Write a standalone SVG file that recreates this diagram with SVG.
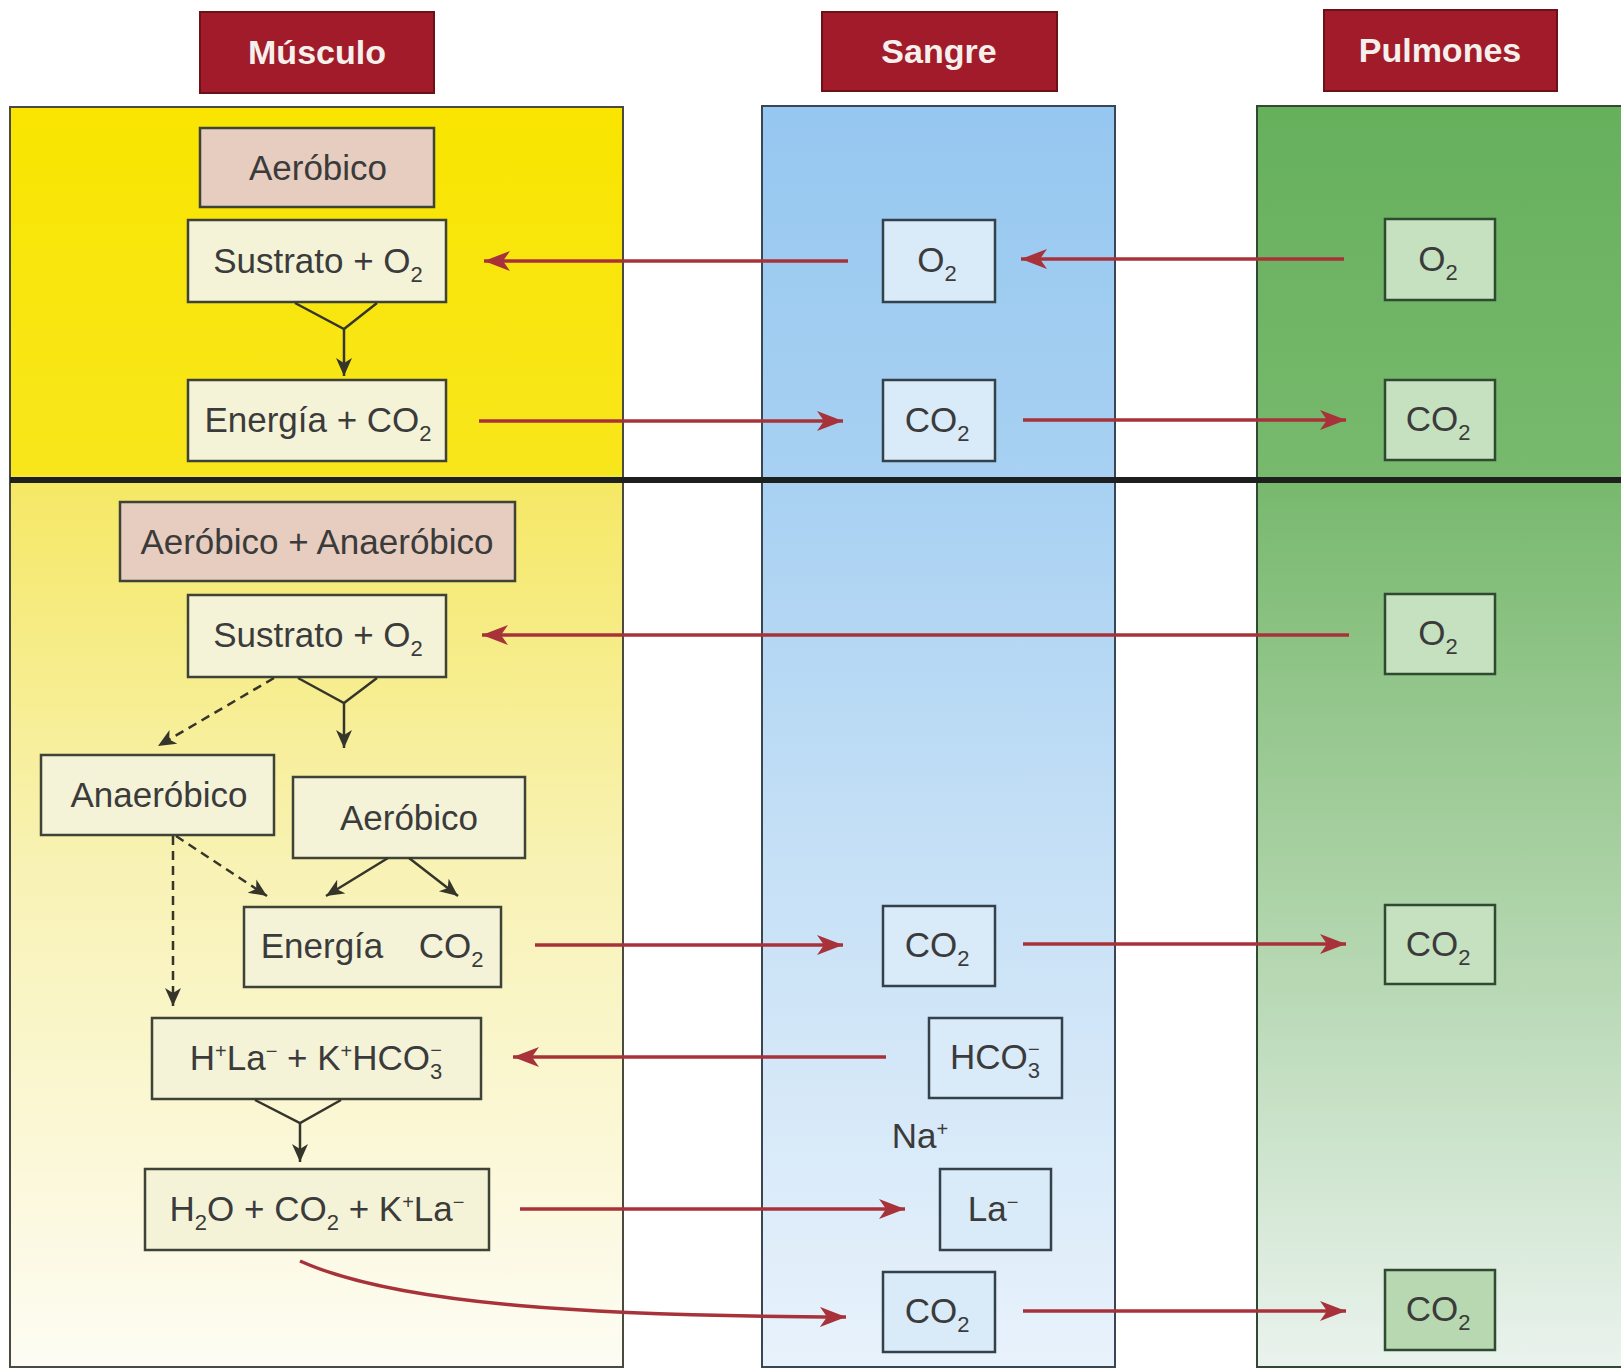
<svg xmlns="http://www.w3.org/2000/svg" width="1621" height="1369" viewBox="0 0 1621 1369">
<style>
.t{font-family:"Liberation Sans",Arial,sans-serif;font-size:35px;fill:#3b3b3b;text-anchor:middle}
.h{font-family:"Liberation Sans",Arial,sans-serif;font-size:34px;font-weight:bold;fill:#f6f0ec;text-anchor:middle}
.sub{font-size:22px}
.sup{font-size:20px}
.hdr{fill:#a21b2a;stroke:#6a1218;stroke-width:2}
.mb{fill:#f4f3d8;stroke:#3f4236;stroke-width:2.5}
.pk{fill:#e7cdbf;stroke:#3f4236;stroke-width:2.5}
.bb{fill:#d9eaf8;stroke:#34414a;stroke-width:2.5}
.gb{fill:#c6e1c0;stroke:#2f4a30;stroke-width:2.5}
.red{fill:none;stroke:#a8323a;stroke-width:3.5}
.blk{fill:none;stroke:#35352a;stroke-width:2.5}
.dash{fill:none;stroke:#35352a;stroke-width:2.5;stroke-dasharray:9 6}
</style>
<defs>
<linearGradient id="gy" x1="0" y1="0" x2="0" y2="1">
<stop offset="0" stop-color="#f9e500"/>
<stop offset="0.29" stop-color="#f8e61c"/>
<stop offset="0.30" stop-color="#f5e866"/>
<stop offset="0.6" stop-color="#f8f2b4"/>
<stop offset="1" stop-color="#fdfcf3"/>
</linearGradient>
<linearGradient id="gb" x1="0" y1="0" x2="0" y2="1">
<stop offset="0" stop-color="#96c7f0"/>
<stop offset="0.3" stop-color="#a8d1f2"/>
<stop offset="0.6" stop-color="#c6e0f6"/>
<stop offset="1" stop-color="#e8f2fb"/>
</linearGradient>
<linearGradient id="gg" x1="0" y1="0" x2="0" y2="1">
<stop offset="0" stop-color="#66b05c"/>
<stop offset="0.3" stop-color="#78b96e"/>
<stop offset="0.6" stop-color="#a8d0a2"/>
<stop offset="1" stop-color="#eaf3ee"/>
</linearGradient>
<marker id="ar" markerUnits="userSpaceOnUse" markerWidth="30" markerHeight="22" refX="26" refY="10" orient="auto">
<path d="M0,0 L26,10 L0,20 L7,10 z" fill="#a8323a"/>
</marker>
<marker id="ak" markerUnits="userSpaceOnUse" markerWidth="20" markerHeight="18" refX="18" refY="8" orient="auto">
<path d="M0,0 L18,8 L0,16 L5,8 z" fill="#35352a"/>
</marker>
</defs>
<rect width="1621" height="1369" fill="#ffffff"/>

<g id="panels">
<rect x="10" y="107" width="613" height="1260" fill="url(#gy)" stroke="#4a4a40" stroke-width="2"/>
<rect x="762" y="106" width="353" height="1261" fill="url(#gb)" stroke="#3a4654" stroke-width="2"/>
<rect x="1257" y="106" width="370" height="1261" fill="url(#gg)" stroke="#2f4a30" stroke-width="2"/>
<line x1="10" y1="480" x2="1621" y2="480" stroke="#1e2020" stroke-width="6"/>
</g>

<g id="header-musculo"><rect class="hdr" x="200" y="12" width="234" height="81"/><text class="h" x="317" y="64">Músculo</text></g>
<g id="header-sangre"><rect class="hdr" x="822" y="12" width="235" height="79"/><text class="h" x="939" y="63">Sangre</text></g>
<g id="header-pulmones"><rect class="hdr" x="1324" y="10" width="233" height="81"/><text class="h" x="1440" y="62">Pulmones</text></g>

<g id="m-aerobico"><rect class="pk" x="200" y="128" width="234" height="79"/><text class="t" x="318" y="180">Aeróbico</text></g>
<g id="m-sustrato1"><rect class="mb" x="188" y="220" width="258" height="82"/><text class="t" x="318" y="273">Sustrato + O<tspan class="sub" dy="9">2</tspan></text></g>
<g id="m-energia1"><rect class="mb" x="188" y="380" width="258" height="81"/><text class="t" x="318" y="432">Energía + CO<tspan class="sub" dy="9">2</tspan></text></g>
<g id="m-aeroanaero"><rect class="pk" x="120" y="502" width="395" height="79"/><text class="t" x="317" y="554">Aeróbico + Anaeróbico</text></g>
<g id="m-sustrato2"><rect class="mb" x="188" y="595" width="258" height="82"/><text class="t" x="318" y="647">Sustrato + O<tspan class="sub" dy="9">2</tspan></text></g>
<g id="m-anaerobico"><rect class="mb" x="41" y="755" width="233" height="80"/><text class="t" x="159" y="807">Anaeróbico</text></g>
<g id="m-aerobico2"><rect class="mb" x="293" y="777" width="232" height="81"/><text class="t" x="409" y="830">Aeróbico</text></g>
<g id="m-energia2"><rect class="mb" x="244" y="907" width="257" height="80"/><text class="t" x="322" y="958">Energía<tspan x="451">CO<tspan class="sub" dy="9">2</tspan></tspan></text></g>
<g id="m-hla"><rect class="mb" x="152" y="1018" width="329" height="81"/><text class="t" x="316" y="1070">H<tspan class="sup" dy="-12">+</tspan><tspan dy="12">La</tspan><tspan class="sup" dy="-12">−</tspan><tspan dy="12"> + K</tspan><tspan class="sup" dy="-12">+</tspan><tspan dy="12">HCO</tspan><tspan class="sub" dy="9">3</tspan><tspan class="sup" dx="-12" dy="-22">−</tspan></text></g>
<g id="m-h2o"><rect class="mb" x="145" y="1169" width="344" height="81"/><text class="t" x="317" y="1221">H<tspan class="sub" dy="9">2</tspan><tspan dy="-9">O + CO</tspan><tspan class="sub" dy="9">2</tspan><tspan dy="-9"> + K</tspan><tspan class="sup" dy="-12">+</tspan><tspan dy="12">La</tspan><tspan class="sup" dy="-12">−</tspan></text></g>

<g id="s-o2"><rect class="bb" x="883" y="220" width="112" height="82"/><text class="t" x="937" y="272">O<tspan class="sub" dy="9">2</tspan></text></g>
<g id="s-co2a"><rect class="bb" x="883" y="380" width="112" height="81"/><text class="t" x="937" y="432">CO<tspan class="sub" dy="9">2</tspan></text></g>
<g id="s-co2b"><rect class="bb" x="883" y="906" width="112" height="80"/><text class="t" x="937" y="957">CO<tspan class="sub" dy="9">2</tspan></text></g>
<g id="s-hco3"><rect class="bb" x="929" y="1018" width="133" height="80"/><text class="t" x="995" y="1069">HCO<tspan class="sub" dy="9">3</tspan><tspan class="sup" dx="-12" dy="-22">−</tspan></text></g>
<text id="s-na" class="t" x="920" y="1148">Na<tspan class="sup" dy="-12">+</tspan></text>
<g id="s-la"><rect class="bb" x="940" y="1169" width="111" height="81"/><text class="t" x="993" y="1221">La<tspan class="sup" dy="-12">−</tspan></text></g>
<g id="s-co2c"><rect class="bb" x="883" y="1272" width="112" height="80"/><text class="t" x="937" y="1323">CO<tspan class="sub" dy="9">2</tspan></text></g>

<g id="p-o2a"><rect class="gb" x="1385" y="219" width="110" height="81"/><text class="t" x="1438" y="271">O<tspan class="sub" dy="9">2</tspan></text></g>
<g id="p-co2a"><rect class="gb" x="1385" y="380" width="110" height="80"/><text class="t" x="1438" y="431">CO<tspan class="sub" dy="9">2</tspan></text></g>
<g id="p-o2b"><rect class="gb" x="1385" y="594" width="110" height="80"/><text class="t" x="1438" y="645">O<tspan class="sub" dy="9">2</tspan></text></g>
<g id="p-co2b"><rect class="gb" x="1385" y="905" width="110" height="79"/><text class="t" x="1438" y="956">CO<tspan class="sub" dy="9">2</tspan></text></g>
<g id="p-co2c"><rect class="gb" x="1385" y="1270" width="110" height="80" style="fill:#b7d8b0"/><text class="t" x="1438" y="1321">CO<tspan class="sub" dy="9">2</tspan></text></g>

<g id="connectors">
<polyline class="blk" points="295,303 344,329 377,303"/>
<line class="blk" x1="344" y1="329" x2="344" y2="376" marker-end="url(#ak)"/>
<polyline class="blk" points="298,678 344,703 377,678"/>
<line class="blk" x1="344" y1="703" x2="344" y2="748" marker-end="url(#ak)"/>
<line class="dash" x1="274" y1="678" x2="158" y2="746" marker-end="url(#ak)"/>
<line class="blk" x1="388" y1="858" x2="326" y2="896" marker-end="url(#ak)"/>
<line class="blk" x1="409" y1="858" x2="458" y2="896" marker-end="url(#ak)"/>
<line class="dash" x1="176" y1="836" x2="267" y2="896" marker-end="url(#ak)"/>
<line class="dash" x1="173" y1="836" x2="173" y2="1006" marker-end="url(#ak)"/>
<polyline class="blk" points="255,1100 300,1123 341,1100"/>
<line class="blk" x1="300" y1="1123" x2="300" y2="1162" marker-end="url(#ak)"/>

<line class="red" x1="848" y1="261" x2="484" y2="261" marker-end="url(#ar)"/>
<line class="red" x1="1344" y1="259" x2="1021" y2="259" marker-end="url(#ar)"/>
<line class="red" x1="479" y1="421" x2="843" y2="421" marker-end="url(#ar)"/>
<line class="red" x1="1023" y1="420" x2="1346" y2="420" marker-end="url(#ar)"/>
<line class="red" x1="1349" y1="635" x2="482" y2="635" marker-end="url(#ar)"/>
<line class="red" x1="535" y1="945" x2="843" y2="945" marker-end="url(#ar)"/>
<line class="red" x1="1023" y1="944" x2="1346" y2="944" marker-end="url(#ar)"/>
<line class="red" x1="886" y1="1057" x2="513" y2="1057" marker-end="url(#ar)"/>
<line class="red" x1="520" y1="1209" x2="905" y2="1209" marker-end="url(#ar)"/>
<path class="red" d="M300,1261 C400,1306 600,1316 846,1317" marker-end="url(#ar)"/>
<line class="red" x1="1023" y1="1311" x2="1346" y2="1311" marker-end="url(#ar)"/>
</g>
</svg>
